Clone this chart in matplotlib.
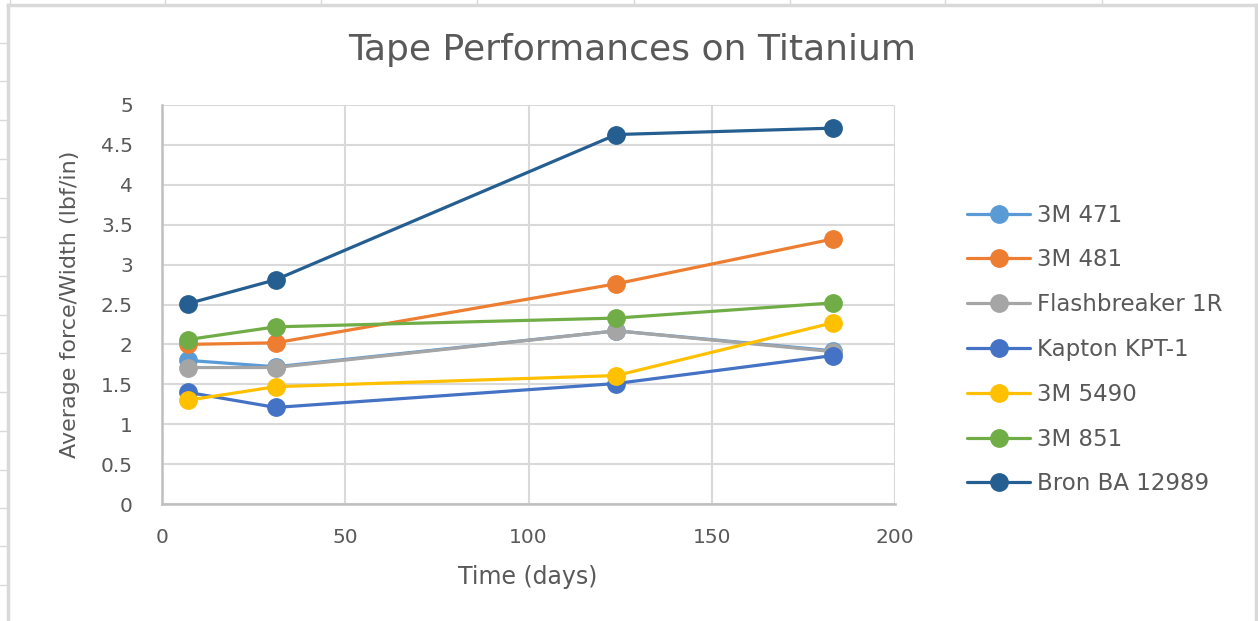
import matplotlib
matplotlib.use("Agg")
import matplotlib.pyplot as plt
from matplotlib.lines import Line2D

days = [7, 31, 124, 183]
series_names = ["3M 471", "3M 481", "Flashbreaker 1R", "Kapton KPT-1",
                "3M 5490", "3M 851", "Bron BA 12989"]
v_471 = [1.80, 1.72, 2.17, 1.92]
v_481 = [2.00, 2.02, 2.76, 3.32]
v_flash = [1.71, 1.71, 2.17, 1.91]
v_kapton = [1.40, 1.21, 1.51, 1.86]
v_5490 = [1.30, 1.47, 1.61, 2.27]
v_851 = [2.06, 2.22, 2.33, 2.52]
v_bron = [2.51, 2.81, 4.63, 4.71]
series_values = [v_471, v_481, v_flash, v_kapton, v_5490, v_851, v_bron]
colors = ["#5B9BD5", "#ED7D31", "#A5A5A5", "#4472C4", "#FFC000", "#70AD47", "#255E91"]
x_ticks = [0, 50, 100, 150, 200]
y_ticks = [0, 0.5, 1, 1.5, 2, 2.5, 3, 3.5, 4, 4.5, 5]
y_tick_labels = ["0", "0.5", "1", "1.5", "2", "2.5", "3", "3.5", "4", "4.5", "5"]

plt.rcParams["font.family"] = ["DejaVu Sans"]

W, H = 1258, 621
fig = plt.figure(figsize=(W / 100, H / 100), dpi=100)
fig.patch.set_facecolor("white")

# axes placement (pixels)
left, right, top, bottom = 162, 895, 105, 504
ax = fig.add_axes([left / W, (H - bottom) / H, (right - left) / W, (bottom - top) / H])

txt = "#595959"
grid_c = "#D9D9D9"

for vals, name, c in zip(series_values, series_names, colors):
    ax.plot(days, vals, color=c, lw=2.3, marker="o", ms=12.5, label=name,
            solid_capstyle="round", zorder=3)

ax.set_xlim(0, 200)
ax.set_ylim(0, 5)
ax.set_xticks(x_ticks)
ax.set_yticks(y_ticks)
ax.set_yticklabels(y_tick_labels)
ax.grid(True, color=grid_c, lw=1.5, zorder=0)
ax.set_axisbelow(True)
for s in ["top", "right"]:
    ax.spines[s].set_visible(False)
for s in ["left", "bottom"]:
    ax.spines[s].set_color("#BFBFBF")
    ax.spines[s].set_linewidth(1.8)
ax.tick_params(axis="both", length=0, colors=txt, labelsize=14.5)
ax.tick_params(axis="y", pad=21)
ax.tick_params(axis="x", pad=17)

fig.text(528 / W, (H - 577) / H, "Time (days)", ha="center", va="center",
         fontsize=17, color=txt)
fig.text(70 / W, (H - 304) / H, "Average force/Width (lbf/in)", ha="center", va="center",
         rotation=90, fontsize=16, color=txt)
fig.text(632 / W, (H - 50) / H, "Tape Performances on Titanium", ha="center", va="center",
         fontsize=26, color=txt)

leg = fig.legend(loc="center left", bbox_to_anchor=(967 / W, (H - 349.5) / H),
                 frameon=False, fontsize=16.5, handlelength=2.75, handletextpad=0.3,
                 labelspacing=0.95, borderpad=0, borderaxespad=0)
for t in leg.get_texts():
    t.set_color(txt)

# outer frame and spreadsheet cell ticks
fc = "#D9D9D9"
def fline(x0, y0, x1, y1, lw=2.5):
    fig.add_artist(Line2D([x0 / W, x1 / W], [(H - y0) / H, (H - y1) / H],
                          color=fc, lw=lw, transform=fig.transFigure))
fline(8, 5, 8, 621)
fline(8, 5, 1256, 5)
fline(1256, 5, 1256, 621)
for xt in [10, 165, 321, 477, 634, 790, 945, 1102]:
    fline(xt, 0, xt, 4, lw=1)
for yt in [43, 81, 120, 159, 198, 237, 276, 315, 353, 392, 431, 470, 508, 546, 585]:
    fline(0, yt, 7, yt, lw=1)

fig.savefig("out.png", dpi=100, facecolor="white")
